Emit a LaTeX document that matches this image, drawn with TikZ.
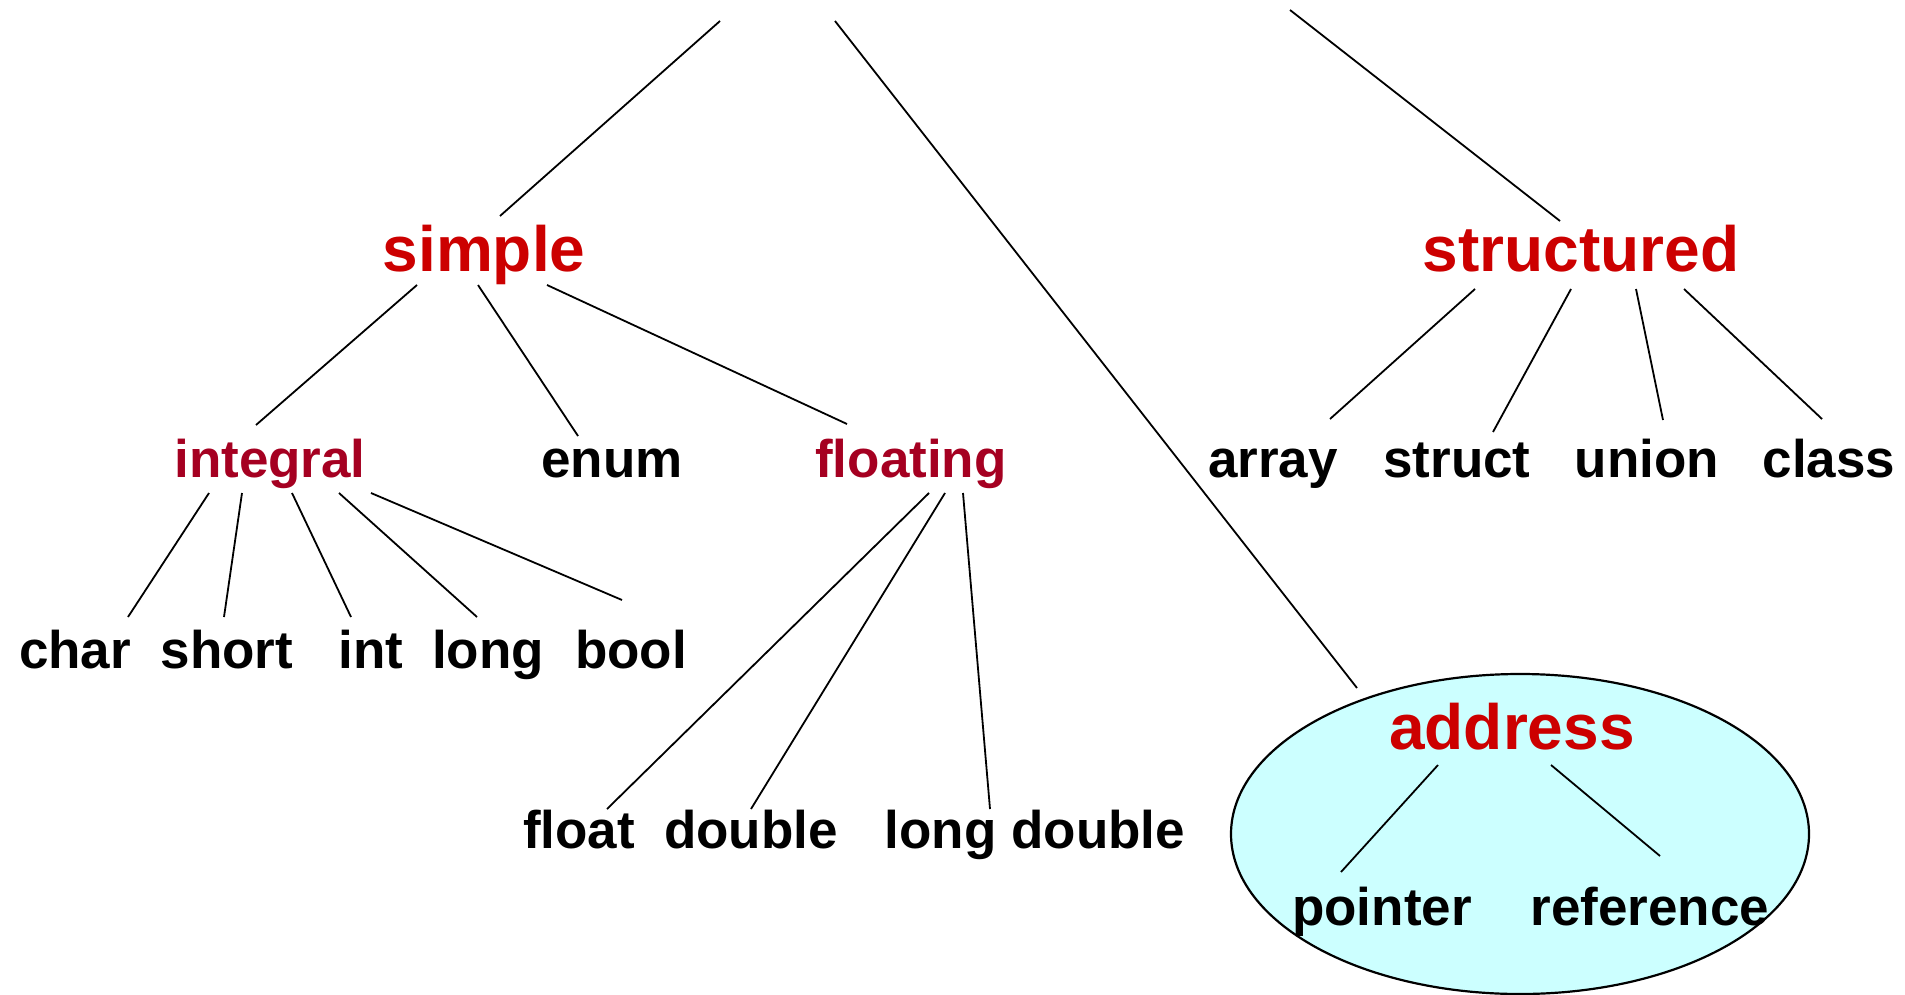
\documentclass[tikz,border=0pt]{standalone}
\usepackage{fontspec}
\setmainfont{Liberation Sans}
\usetikzlibrary{calc,shapes.geometric}
\definecolor{kindred}{HTML}{CC0000}
\definecolor{groupred}{HTML}{A50021}
\definecolor{addrfill}{HTML}{CCFFFF}
\begin{document}
\begin{tikzpicture}[x=0.5pt,y=-0.5pt,
  kind/.style={font=\bfseries\fontsize{32}{38}\selectfont, text=kindred, inner sep=0pt, anchor=base},
  group/.style={font=\bfseries\fontsize{26.5}{31}\selectfont, text=groupred, inner sep=0pt, anchor=base},
  leaf/.style={font=\bfseries\fontsize{26.5}{31}\selectfont, text=black, inner sep=0pt, anchor=base},
  link/.style={draw=black, line width=0.9pt}]

% canvas
\fill[white] (0,0) rectangle (1905,995);
\useasboundingbox (0,0) rectangle (1905,995);

% shaded region around the address types
\node[ellipse, draw=black, line width=1.1pt, fill=addrfill, inner sep=0pt,
      minimum width=289pt, minimum height=160pt] (addrzone) at (1520,834) {};

% loose upper ends of the three top-level branches
\coordinate (upL) at (720,21);
\coordinate (upM) at (835,21);
\coordinate (upR) at (1290,10);

% top-level kinds
\node[kind] (simple) at (484,271) {simple};
\node[kind] (structured) at (1581,271) {structured};
\node[kind] (address) at (1512,749) {address};

% second level
\node[group] (integral) at (270,477) {integral};
\node[leaf]  (enum) at (612,477) {enum};
\node[group] (floating) at (911,477) {floating};

\node[leaf] (array)  at (1273,477) {array};
\node[leaf] (struct) at (1457,477) {struct};
\node[leaf] (union)  at (1647,477) {union};
\node[leaf] (class)  at (1829,477) {class};

% integral types
\node[leaf] (char)  at (75,668)  {char};
\node[leaf] (short) at (227,668) {short};
\node[leaf] (int)   at (371,668) {int};
\node[leaf] (long)  at (488,668) {long};
\node[leaf] (bool)  at (631,668) {bool};

% floating types
\node[leaf] (float)      at (579,848)  {float};
\node[leaf] (double)     at (751,848)  {double};
\node[leaf] (longdouble) at (1035,848) {long double};

% address types
\node[leaf] (pointer)   at (1382,925) {pointer};
\node[leaf] (reference) at (1650,925) {reference};

% connectors
\draw[link] (upL) -- ($(simple.base)+(16,-55)$);
\draw[link] (upM) -- ($(address.base)+(-155,-61)$);
\draw[link] (upR) -- ($(structured.base)+(-21,-50)$);

\draw[link] ($(simple.base)+(-67,14)$) -- ($(integral.base)+(-14,-52)$);
\draw[link] ($(simple.base)+(-6,14)$)  -- ($(enum.base)+(-34,-41)$);
\draw[link] ($(simple.base)+(63,14)$)  -- ($(floating.base)+(-64,-53)$);

\draw[link] ($(structured.base)+(-106,18)$) -- ($(array.base)+(57,-58)$);
\draw[link] ($(structured.base)+(-10,18)$)  -- ($(struct.base)+(36,-45)$);
\draw[link] ($(structured.base)+(55,18)$)   -- ($(union.base)+(16,-57)$);
\draw[link] ($(structured.base)+(103,18)$)  -- ($(class.base)+(-7,-58)$);

\draw[link] ($(integral.base)+(-61,16)$) -- ($(char.base)+(53,-51)$);
\draw[link] ($(integral.base)+(-28,16)$) -- ($(short.base)+(-3,-51)$);
\draw[link] ($(integral.base)+(22,16)$)  -- ($(int.base)+(-20,-51)$);
\draw[link] ($(integral.base)+(69,16)$)  -- ($(long.base)+(-11,-51)$);
\draw[link] ($(integral.base)+(101,16)$) -- ($(bool.base)+(-9,-68)$);

\draw[link] ($(floating.base)+(18,16)$) -- ($(float.base)+(28,-39)$);
\draw[link] ($(floating.base)+(34,16)$) -- ($(double.base)+(0,-39)$);
\draw[link] ($(floating.base)+(52,16)$) -- ($(longdouble.base)+(-45,-39)$);

\draw[link] ($(address.base)+(-74,16)$) -- ($(pointer.base)+(-41,-53)$);
\draw[link] ($(address.base)+(39,16)$)  -- ($(reference.base)+(10,-69)$);
\end{tikzpicture}
\end{document}
